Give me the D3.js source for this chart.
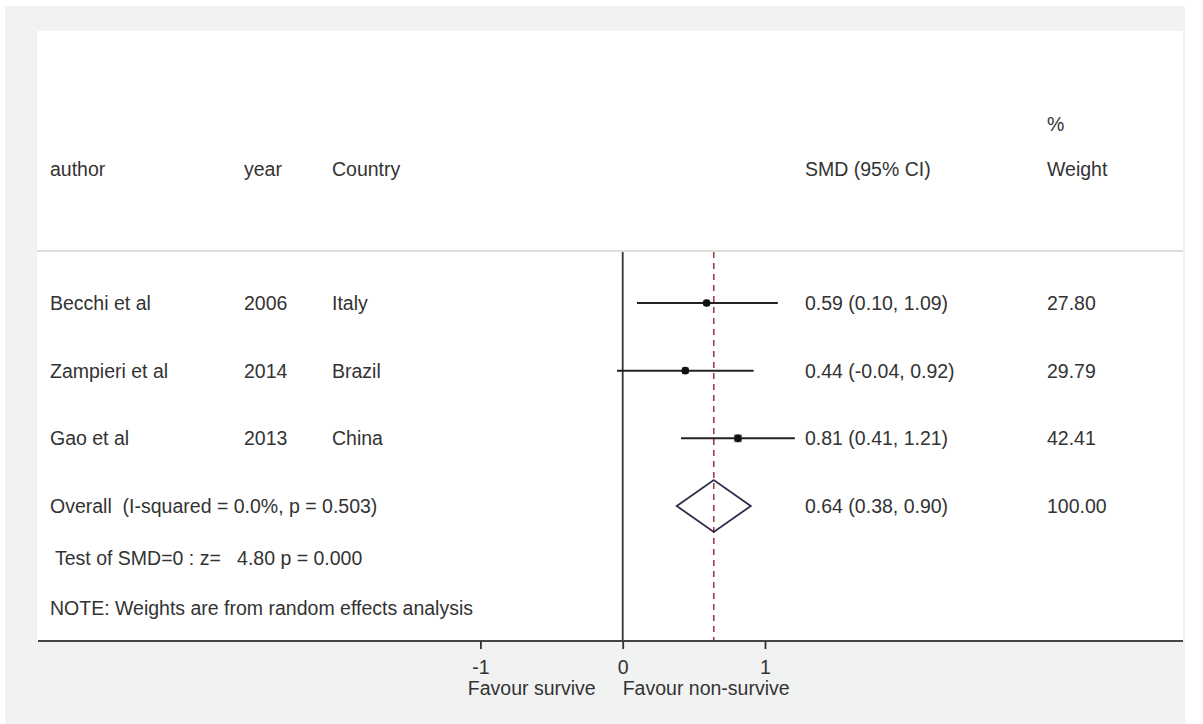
<!DOCTYPE html>
<html>
<head>
<meta charset="utf-8">
<script src="https://cdn.jsdelivr.net/npm/d3@7"></script>
<style>
  body { margin: 0; background: #fff; }
  svg text { font-family: "Liberation Sans", Arial, sans-serif; font-size: 19.5px; fill: #333; white-space: pre; }
</style>
</head>
<body>
<svg width="1203" height="724"></svg>
<script>
// study data
const authors = ['Becchi et al', 'Zampieri et al', 'Gao et al'];
const years = ['2006', '2014', '2013'];
const countries = ['Italy', 'Brazil', 'China'];
const smd = [0.59, 0.44, 0.81];
const lower = [0.10, -0.04, 0.41];
const upper = [1.09, 0.92, 1.21];
const weights = [27.80, 29.79, 42.41];

// pooled estimate
const overall = { est: 0.64, lo: 0.38, hi: 0.90, weight: 100.00 };
const overallLabel = 'Overall  (I-squared = 0.0%, p = 0.503)';
const testLabel = 'Test of SMD=0 : z=   4.80 p = 0.000';
const noteLabel = 'NOTE: Weights are from random effects analysis';

const xTicks = [-1, 0, 1];
const favourLeft = 'Favour survive';
const favourRight = 'Favour non-survive';

const svg = d3.select('svg');
// hyphen instead of unicode minus, like Stata
const fmt = v => d3.format('.2f')(v).replace('\u2212', '-');

// outer grey frame + white plot panel
svg.append('rect').attr('x', 5).attr('y', 6).attr('width', 1180).attr('height', 718).attr('fill', '#f1f2f2');
svg.append('rect').attr('x', 37).attr('y', 31).attr('width', 1146).attr('height', 610).attr('fill', '#fff');

const panelLeft = 37, panelRight = 1183, axisY = 641, headY = 251;

const xScale = d3.scaleLinear().domain([0, 1]).range([622.7, 765]);
const yScale = d3.scaleLinear().domain([0, 3]).range([303, 506]);

const col = { author: 50, year: 244, country: 332, est: 805, weight: 1047 };

// header
const head = svg.append('g');
head.append('text').attr('x', col.weight).attr('y', 131).text('%');
[['author', col.author], ['year', col.year], ['Country', col.country],
 ['SMD (95% CI)', col.est], ['Weight', col.weight]].forEach(([t, x]) => {
  head.append('text').attr('x', x).attr('y', 176).text(t);
});
svg.append('line').attr('x1', panelLeft).attr('x2', panelRight)
  .attr('y1', headY).attr('y2', headY)
  .attr('stroke', '#d6d1cc').attr('stroke-width', 1.5);

// null line
svg.append('line').attr('x1', xScale(0)).attr('x2', xScale(0))
  .attr('y1', headY + 1).attr('y2', axisY)
  .attr('stroke', '#333').attr('stroke-width', 1.8);

// overall effect dashed line
svg.append('line').attr('x1', xScale(overall.est)).attr('x2', xScale(overall.est))
  .attr('y1', headY + 1).attr('y2', axisY)
  .attr('stroke', '#9c3d4a').attr('stroke-width', 1.6).attr('stroke-dasharray', '6,5');

// studies
const boxSize = d3.scaleSqrt().domain([0, d3.max(weights)]).range([0, 8]);
const rows = svg.append('g');
authors.forEach((a, i) => {
  const y = yScale(i);
  rows.append('text').attr('x', col.author).attr('y', y + 7).text(a);
  rows.append('text').attr('x', col.year).attr('y', y + 7).text(years[i]);
  rows.append('text').attr('x', col.country).attr('y', y + 7).text(countries[i]);
  rows.append('text').attr('x', col.est).attr('y', y + 7)
    .text(`${fmt(smd[i])} (${fmt(lower[i])}, ${fmt(upper[i])})`);
  rows.append('text').attr('x', col.weight).attr('y', y + 7).text(fmt(weights[i]));

  rows.append('line').attr('x1', xScale(lower[i])).attr('x2', xScale(upper[i]))
    .attr('y1', y).attr('y2', y).attr('stroke', '#222').attr('stroke-width', 2);
  const s = boxSize(weights[i]);
  rows.append('rect').attr('x', xScale(smd[i]) - s / 2).attr('y', y - s / 2)
    .attr('width', s).attr('height', s).attr('fill', '#8a8a8a');
  rows.append('circle').attr('cx', xScale(smd[i])).attr('cy', y).attr('r', 3.8).attr('fill', '#111');
});

// overall diamond
const yo = yScale(3);
rows.append('text').attr('x', col.author).attr('y', yo + 7).text(overallLabel);
rows.append('text').attr('x', col.est).attr('y', yo + 7)
  .text(`${fmt(overall.est)} (${fmt(overall.lo)}, ${fmt(overall.hi)})`);
rows.append('text').attr('x', col.weight).attr('y', yo + 7).text(fmt(overall.weight));
const dh = 26;
rows.append('path')
  .attr('d', `M${xScale(overall.lo)},${yo} L${xScale(overall.est)},${yo - dh} L${xScale(overall.hi)},${yo} L${xScale(overall.est)},${yo + dh} Z`)
  .attr('fill', 'none').attr('stroke', '#2c2c4a').attr('stroke-width', 1.8);

rows.append('text').attr('x', 55).attr('y', 565).text(testLabel);
rows.append('text').attr('x', col.author).attr('y', 615).text(noteLabel);

// x axis
svg.append('line').attr('x1', panelLeft + 1).attr('x2', panelRight)
  .attr('y1', axisY).attr('y2', axisY).attr('stroke', '#444').attr('stroke-width', 2);

const xAxis = d3.axisBottom(xScale).tickValues(xTicks).tickSize(8).tickPadding(10)
  .tickFormat(d => String(d));
const xAxisG = svg.append('g').attr('transform', `translate(0,${axisY})`).call(xAxis);
xAxisG.select('.domain').remove();
xAxisG.selectAll('.tick line').attr('stroke', '#333').attr('stroke-width', 1.8);
xAxisG.selectAll('.tick text').attr('font-family', null).attr('font-size', null)
  .attr('fill', null).attr('dy', null).attr('y', 33);

svg.append('text').attr('x', xScale(0) - 27).attr('y', 695).attr('text-anchor', 'end').text(favourLeft);
svg.append('text').attr('x', xScale(0)).attr('y', 695).text(favourRight);
</script>
</body>
</html>
